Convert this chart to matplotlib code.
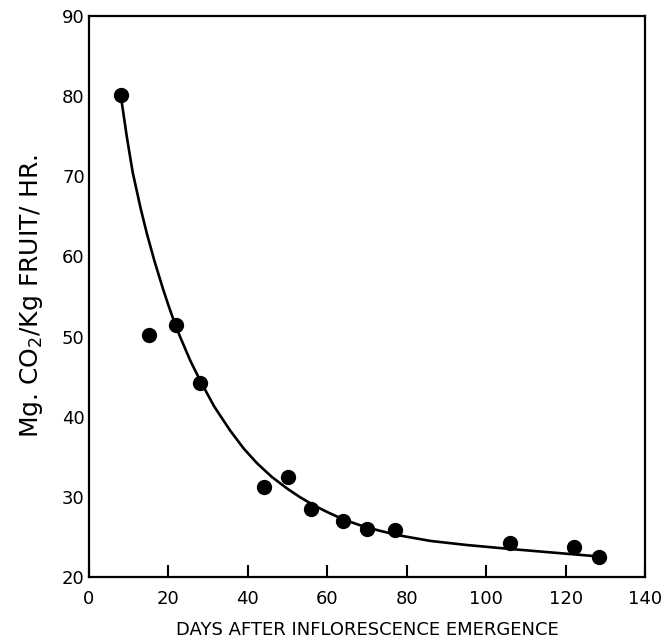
import matplotlib
matplotlib.use('Agg')
import matplotlib.pyplot as plt

# measured points
days = [8, 15, 22, 28, 44, 50, 56, 64, 70, 77, 106, 122, 128.5]
co2 = [80.1, 50.2, 51.4, 44.2, 31.2, 32.5, 28.5, 27.0, 26.0, 25.9, 24.3, 23.7, 22.5]

# fitted curve
curve_x = [8, 9.5, 11, 13, 14.6, 16.5, 18.6, 20, 21.7, 23, 25.5, 28, 31.5, 35.5,
           39, 42.3, 46, 50, 53, 56.4, 60, 64, 68, 73, 78, 86, 95, 106, 118, 127.5]
curve_y = [80.1, 75.0, 70.5, 66.0, 62.8, 59.4, 56.0, 53.9, 51.5, 49.9, 47.0, 44.5, 41.3, 38.3,
           36.0, 34.2, 32.5, 31.0, 30.0, 29.0, 28.1, 27.2, 26.5, 25.8, 25.2, 24.5, 24.0, 23.5, 23.0, 22.6]

plt.rcParams['font.family'] = ['DejaVu Sans']

fig = plt.figure(figsize=(6.66, 6.42), dpi=100)
ax = fig.add_axes([0.1336, 0.1012, 0.835, 0.874])

ax.plot(curve_x, curve_y, color='black', linewidth=1.9, solid_capstyle='round',
        solid_joinstyle='round')
ax.plot(days, co2, 'o', color='black', markersize=10)

ax.set_xlim(0, 140)
ax.set_ylim(20, 90)
ax.set_xticks(range(0, 141, 20))
ax.set_yticks(range(20, 91, 10))
ax.tick_params(axis='x', direction='in', length=9, width=1.5, labelsize=13, pad=9)
ax.tick_params(axis='y', length=0, labelsize=13, pad=3)
for s in ax.spines.values():
    s.set_linewidth(1.6)

fig.text(0.551, 0.019, 'DAYS AFTER INFLORESCENCE EMERGENCE', fontsize=13,
         ha='center', va='center')
ax.set_ylabel('Mg. CO$_2$/Kg FRUIT/ HR.', fontsize=18, labelpad=12)

fig.savefig('out.png', dpi=100)
